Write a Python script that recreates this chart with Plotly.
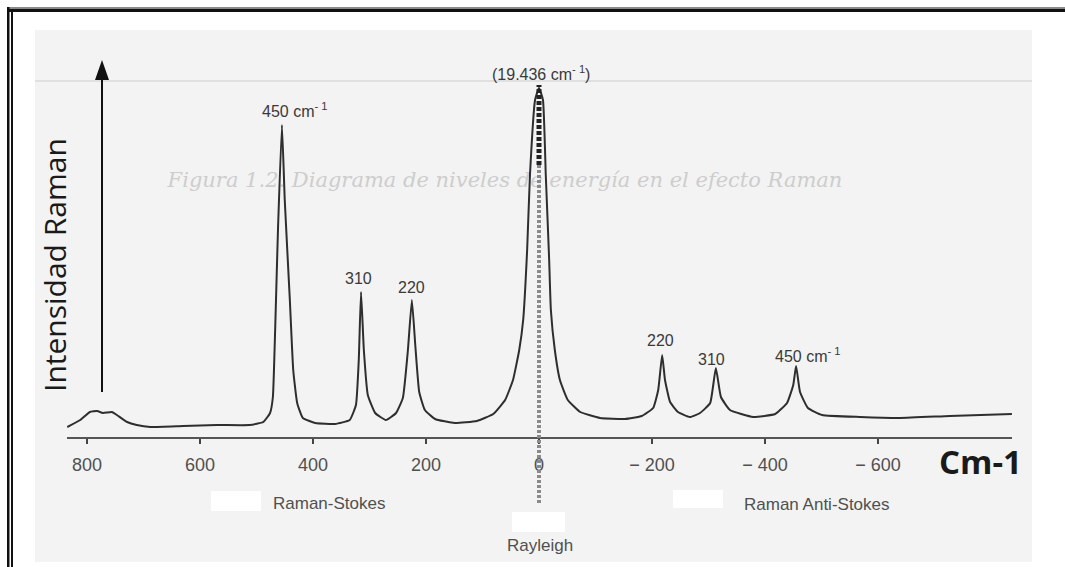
import plotly.graph_objects as go

# ---------------- data ----------------
# Raman shift in cm-1 (Stokes positive, anti-Stokes negative) and intensity (arbitrary units)
shift = [835, 812, 795, 782, 772, 756, 747, 729, 712, 688,
         630, 570, 512, 488, 476, 471, 467, 462, 455, 450,
         441, 435, 428, 418, 396, 361, 335, 324, 319, 315,
         310, 303, 290, 271, 253, 241, 232, 225, 219, 212,
         202, 184, 149, 110, 81, 60, 46, 35, 28, 21,
         16, 7, 0, -7, -12, -18, -21, -28, -37, -51,
         -73, -108, -152, -182, -202, -211, -218, -223, -232, -246,
         -267, -285, -303, -313, -322, -338, -379, -418, -439, -450,
         -455, -462, -476, -501, -568, -639, -727, -837]
intensity = [10, 17, 25, 26, 24, 25, 22, 15, 12, 10,
             11, 12, 12, 15, 24, 40, 107, 207, 312, 237,
             137, 67, 34, 19, 14, 13, 17, 32, 77, 145,
             87, 42, 24, 17, 24, 39, 87, 137, 92, 45,
             27, 18, 14, 16, 23, 37, 57, 87, 117, 187,
             262, 337, 349, 337, 262, 177, 127, 87, 57, 37,
             25, 19, 18, 21, 29, 47, 82, 57, 35, 25,
             20, 24, 34, 69, 40, 27, 20, 23, 34, 52,
             71, 45, 29, 22, 20, 19, 21, 23]

peak_shift = [455, 315, 225, 0, -218, -313, -455]
peak_height = [312, 145, 137, 349, 82, 69, 71]
peak_labels = ["450 cm<sup>- 1</sup>", "310", "220", "(19.436 cm<sup>- 1</sup>)",
               "220", "310", "450 cm<sup>- 1</sup>"]

tick_values = [800, 600, 400, 200, 0, -200, -400, -600]
tick_labels = ["800", "600", "400", "200", "0", "\u2212 200", "\u2212 400", "\u2212 600"]

# ---------------- layout helpers (pixel -> paper) ----------------
L, R, T, B = 67, 53, 0, 130
W, H = 1065, 567
PW, PH = W - L - R, H - T - B
X_RANGE = [(539 - L) / 0.565, (539 - (W - R)) / 0.565]


def px(x):
    return (x - L) / PW


def py(y):
    return (H - B - y) / PH


def shift_at(x):
    return (539 - x) / 0.565


def inten_at(y):
    return H - B - y


def box(x0, y0, x1, y1, color, layer="above"):
    return dict(type="rect", xref="paper", yref="paper", x0=px(x0), x1=px(x1),
                y0=py(y1), y1=py(y0), fillcolor=color, line=dict(width=0), layer=layer)


fig = go.Figure()

# faint bleed-through caption of the scanned page (kept under the curve)
fig.add_trace(go.Scatter(
    x=[shift_at(505)], y=[inten_at(182)], mode="text",
    text=["Figura 1.2. Diagrama de niveles de energía en el efecto Raman"],
    textfont=dict(family="DejaVu Serif", size=21, color="#cdcdcd", style="italic"),
    textposition="middle center", cliponaxis=False, hoverinfo="skip", showlegend=False))

# spectrum
fig.add_trace(go.Scatter(
    x=shift, y=intensity, mode="lines",
    line=dict(color="#2e2e2e", width=2, shape="spline", smoothing=0.4),
    cliponaxis=False, hoverinfo="skip", showlegend=False))

shapes = []
# scanned page background
shapes.append(box(35, 30, 1032, 562, "#f3f3f3", "below"))
# faint rule of the page
shapes.append(box(35, 80, 1032, 82, "#e0e0e0", "below"))
# white patches of the scan
for (x0, y0, x1, y1) in [(211, 491, 261, 511), (673, 490, 723, 508), (512, 512, 565, 532)]:
    shapes.append(box(x0, y0, x1, y1, "#ffffff", "below"))

# Rayleigh dashed marker
shapes.append(dict(type="line", xref="x", yref="paper", x0=0, x1=0, y0=py(165), y1=py(85),
                   line=dict(color="#222222", width=5, dash="4px,2px")))
shapes.append(dict(type="line", xref="x", yref="paper", x0=0, x1=0, y0=py(503), y1=py(165),
                   line=dict(color="#8a8a8a", width=4, dash="3px,2px")))

# intensity arrow
shapes.append(box(101, 76, 103, 392, "#111111"))
shapes.append(dict(type="path", xref="paper", yref="paper",
                   path=f"M {px(102)},{py(60)} L {px(95)},{py(80)} L {px(109)},{py(80)} Z",
                   fillcolor="#111111", line=dict(width=0)))

# double frame (cut at right and bottom)
shapes.append(box(7, 7, 1065, 9, "#8a8a8a"))
shapes.append(box(9, 9, 1065, 12, "#111111"))
shapes.append(box(7, 7, 9.5, 567, "#111111"))
shapes.append(box(11, 10, 13, 567, "#111111"))

annotations = []
label_xshift = [13, -3, 0, 2, -2, -4, 12]
label_yshift = [15, 14, 13, 15, 15, 9, 11]
for s, h, t, dx, dy in zip(peak_shift, peak_height, peak_labels, label_xshift, label_yshift):
    annotations.append(dict(x=s, y=h, xref="x", yref="y", text=t, showarrow=False,
                            xanchor="center", yanchor="middle", xshift=dx, yshift=dy,
                            font=dict(family="Liberation Sans", size=16, color="#3a3a3a")))

for txt, x, y in [("Raman-Stokes", 329, 503), ("Raman Anti-Stokes", 817, 504), ("Rayleigh", 540, 545)]:
    annotations.append(dict(x=px(x), y=py(y), xref="paper", yref="paper", text=txt, showarrow=False,
                            xanchor="center", yanchor="middle",
                            font=dict(family="Liberation Sans", size=17, color="#505050")))

annotations.append(dict(x=px(980), y=py(462), xref="paper", yref="paper", text="<b>Cm-1</b>",
                        showarrow=False, xanchor="center", yanchor="middle",
                        font=dict(family="Open Sans", size=33, color="#1a1a1a")))
annotations.append(dict(x=px(54), y=py(265), xref="paper", yref="paper", text="Intensidad Raman",
                        showarrow=False, xanchor="center", yanchor="middle", textangle=-90,
                        font=dict(family="Open Sans", size=30, color="#1a1a1a")))

fig.update_layout(
    width=W, height=H,
    margin=dict(l=L, r=R, t=T, b=B, pad=0),
    paper_bgcolor="#ffffff", plot_bgcolor="rgba(0,0,0,0)",
    showlegend=False,
    xaxis=dict(range=X_RANGE, tickmode="array", tickvals=tick_values, ticktext=tick_labels,
               ticks="outside", ticklen=5, tickwidth=1.5, tickcolor="#444444",
               showline=True, linecolor="#555555", linewidth=1.5,
               showgrid=False, zeroline=False, ticklabelstandoff=6,
               tickfont=dict(family="Liberation Sans", size=18, color="#505050")),
    xaxis2=dict(range=X_RANGE, overlaying="x", anchor="y", side="bottom",
                tickmode="array", tickvals=tick_values, ticks="inside", ticklen=5,
                tickwidth=1.5, tickcolor="#444444", showticklabels=False,
                showline=False, showgrid=False, zeroline=False),
    yaxis=dict(range=[0, PH], visible=False, showgrid=False, zeroline=False),
    shapes=shapes,
    annotations=annotations,
)

fig.write_html("out.html",
               post_script="document.body.style.margin='0';"
                           "document.documentElement.style.overflow='hidden';"
                           "document.body.style.overflow='hidden';")
